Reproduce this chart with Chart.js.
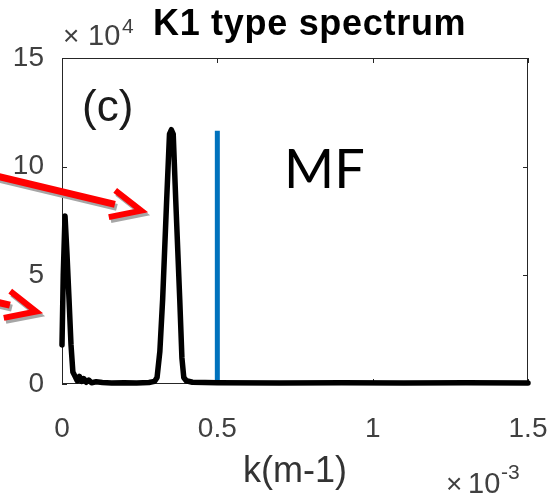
<!DOCTYPE html>
<html>
<head>
<meta charset="utf-8">
<script src="https://cdn.jsdelivr.net/npm/chart.js@4.4.1/dist/chart.umd.min.js"></script>
<style>
  html, body { margin: 0; padding: 0; background: #fff; }
  #wrap { width: 553px; height: 495px; }
</style>
</head>
<body>
<div id="wrap"><canvas id="spectrum" width="553" height="495"></canvas></div>
<script>
// wavenumber k (m^-1) and amplitude of the K1 type spectrum
const kSpectrum = [
    0, 0.004e-3, 0.0097e-3, 0.016e-3, 0.0226e-3, 0.029e-3, 0.035e-3, 0.042e-3,
    0.049e-3, 0.056e-3, 0.063e-3, 0.070e-3, 0.078e-3, 0.086e-3, 0.095e-3, 0.11e-3,
    0.13e-3, 0.16e-3, 0.20e-3, 0.24e-3, 0.28e-3, 0.298e-3, 0.306e-3, 0.315e-3,
    0.324e-3, 0.337e-3, 0.346e-3, 0.352e-3, 0.358e-3, 0.366e-3, 0.379e-3, 0.386e-3,
    0.392e-3, 0.40e-3, 0.42e-3, 0.50e-3, 0.70e-3, 0.90e-3, 1.10e-3, 1.30e-3, 1.50e-3,
];
const ampSpectrum = [
    1.8e4, 5.0e4, 7.73e4, 6.0e4, 3.9e4, 1.8e4, 0.55e4, 0.35e4,
    0.15e4, 0.35e4, 0.12e4, 0.25e4, 0.08e4, 0.18e4, 0.06e4, 0.1e4,
    0.07e4, 0.05e4, 0.06e4, 0.05e4, 0.07e4, 0.12e4, 0.3e4, 1.5e4,
    3.9e4, 8.5e4, 11.5e4, 11.7e4, 11.5e4, 8.5e4, 3.9e4, 1.2e4,
    0.3e4, 0.15e4, 0.08e4, 0.06e4, 0.05e4, 0.06e4, 0.05e4, 0.06e4, 0.05e4,
];

// MF marker line
const kMF = [0.5e-3, 0.5e-3];
const ampMF = [0, 11.65e4];

const kTicks = [0, 0.5e-3, 1e-3, 1.5e-3];
const kTickLabels = ["0", "0.5", "1", "1.5"];
const ampTicks = [0, 5e4, 10e4, 15e4];
const ampTickLabels = ["0", "5", "10", "15"];

// red call-out arrows (tail -> tip), in data units
const arrowTails = [[-0.264e-3, 9.75e4], [-0.264e-3, 3.96e4]];
const arrowTips = [[0.2736e-3, 7.91e4], [-0.0644e-3, 3.27e4]];

const SANS = "'Liberation Sans', Arial, sans-serif";
const TICK_GREY = "#404040";

function drawArrow(ctx, x0, y0, x1, y1, color) {
    const len = Math.hypot(x1 - x0, y1 - y0);
    const ux = (x1 - x0) / len, uy = (y1 - y0) / len;
    const back = Math.atan2(-uy, -ux);
    const vx = x1 - ux * 6, vy = y1 - uy * 6;
    ctx.strokeStyle = color;
    ctx.lineCap = "butt";
    ctx.lineJoin = "miter";

    ctx.lineWidth = 7;
    ctx.beginPath();
    ctx.moveTo(x0, y0);
    ctx.lineTo(x1 - ux * 33, y1 - uy * 33);
    ctx.stroke();

    ctx.lineWidth = 6;
    ctx.beginPath();
    ctx.moveTo(vx + 33 * Math.cos(back + 0.43), vy + 33 * Math.sin(back + 0.43));
    ctx.lineTo(vx, vy);
    ctx.lineTo(vx + 33 * Math.cos(back - 0.43), vy + 33 * Math.sin(back - 0.43));
    ctx.stroke();
}

// axes box with inward tick marks, plus the text and arrow overlays
const axesDecor = {
    id: "axesDecor",
    beforeDatasetsDraw(chart) {
        const { ctx, chartArea: a, scales: { x, y } } = chart;
        ctx.save();
        ctx.strokeStyle = "#262626";
        ctx.lineWidth = 1;
        ctx.strokeRect(a.left + 0.5, a.top + 0.5, a.width - 1, a.height - 1);
        ctx.beginPath();
        kTicks.forEach((v) => {
            const px = Math.round(x.getPixelForValue(v)) + 0.5;
            ctx.moveTo(px, a.bottom);
            ctx.lineTo(px, a.bottom - 5);
            ctx.moveTo(px, a.top);
            ctx.lineTo(px, a.top + 5);
        });
        ampTicks.forEach((v) => {
            const py = Math.round(y.getPixelForValue(v)) + 0.5;
            ctx.moveTo(a.left, py);
            ctx.lineTo(a.left + 5, py);
            ctx.moveTo(a.right, py);
            ctx.lineTo(a.right - 5, py);
        });
        ctx.stroke();
        ctx.restore();
    },
    afterDraw(chart) {
        const { ctx, scales: { x, y } } = chart;
        ctx.save();

        // arrows: grey shadow first, then red on top
        arrowTails.forEach((t, i) => {
            const x0 = x.getPixelForValue(t[0]), y0 = y.getPixelForValue(t[1]);
            const x1 = x.getPixelForValue(arrowTips[i][0]), y1 = y.getPixelForValue(arrowTips[i][1]);
            drawArrow(ctx, x0 + 2, y0 + 3, x1 + 2, y1 + 3, "#a6a6a6");
            drawArrow(ctx, x0, y0, x1, y1, "#ff0000");
        });

        ctx.textAlign = "left";
        ctx.textBaseline = "alphabetic";

        // title
        ctx.fillStyle = "#000";
        ctx.font = "bold 36px " + SANS;
        ctx.letterSpacing = "0.7px";
        ctx.fillText("K1 type spectrum", 153, 35);
        ctx.letterSpacing = "0px";

        // axis exponents
        ctx.fillStyle = TICK_GREY;
        ctx.font = "28px " + SANS;
        ctx.fillText("\u00d7", 63, 45);
        ctx.font = "29px " + SANS;
        ctx.fillText("10", 88, 45);
        ctx.font = "21px " + SANS;
        ctx.fillText("4", 122, 33);

        ctx.font = "28px " + SANS;
        ctx.fillText("\u00d7", 446, 493);
        ctx.font = "29px " + SANS;
        ctx.fillText("10", 468, 493);
        ctx.font = "21px " + SANS;
        ctx.fillText("-3", 501, 479);

        // panel label and MF tag
        ctx.fillStyle = "#1a1a1a";
        ctx.font = "44px " + SANS;
        ctx.fillText("(c)", 82, 121);
        ctx.fillStyle = "#000";
        ctx.font = "54px Lato, 'Noto Sans', sans-serif";
        ctx.fillText("MF", 284, 188);

        ctx.restore();
    },
};

new Chart(document.getElementById("spectrum"), {
    type: "scatter",
    data: {
        datasets: [
            {
                data: kSpectrum.map((k, i) => ({ x: k, y: ampSpectrum[i] })),
                showLine: true,
                borderColor: "#000000",
                borderWidth: 5.5,
                pointRadius: 0,
                tension: 0,
                borderJoinStyle: "round",
                borderCapStyle: "round",
                clip: 6,
            },
            {
                data: kMF.map((k, i) => ({ x: k, y: ampMF[i] })),
                showLine: true,
                borderColor: "#0072bd",
                borderWidth: 5,
                pointRadius: 0,
                clip: 6,
            },
        ],
    },
    options: {
        responsive: false,
        animation: false,
        layout: { padding: { top: 58, right: 25, left: 0, bottom: 0 } },
        plugins: {
            legend: { display: false },
            tooltip: { enabled: false },
        },
        scales: {
            x: {
                type: "linear",
                min: 0,
                max: 1.5e-3,
                afterFit(scale) {
                    scale.height = 111;
                    // keep the end labels from pushing the plot box inward
                    scale.paddingLeft = 0;
                    scale.paddingRight = 0;
                },
                afterBuildTicks(scale) { scale.ticks = kTicks.map((v) => ({ value: v })); },
                grid: { display: false, drawTicks: false },
                border: { display: false },
                ticks: {
                    callback: (v, i) => kTickLabels[i],
                    color: TICK_GREY,
                    font: { family: SANS, size: 28 },
                    padding: 28,
                    maxRotation: 0,
                    autoSkip: false,
                },
                title: {
                    display: true,
                    text: "k(m-1)",
                    color: "#333333",
                    font: { family: SANS, size: 36 },
                    padding: { top: 0, bottom: 1 },
                },
            },
            y: {
                type: "linear",
                min: 0,
                max: 15e4,
                afterFit(scale) {
                    scale.width = 62;
                    scale.paddingTop = 0;
                    scale.paddingBottom = 0;
                },
                afterBuildTicks(scale) { scale.ticks = ampTicks.map((v) => ({ value: v })); },
                grid: { display: false, drawTicks: false },
                border: { display: false },
                ticks: {
                    callback: (v, i) => ampTickLabels[i],
                    color: TICK_GREY,
                    font: { family: SANS, size: 28 },
                    padding: 18,
                    autoSkip: false,
                },
            },
        },
    },
    plugins: [axesDecor],
});
</script>
</body>
</html>
